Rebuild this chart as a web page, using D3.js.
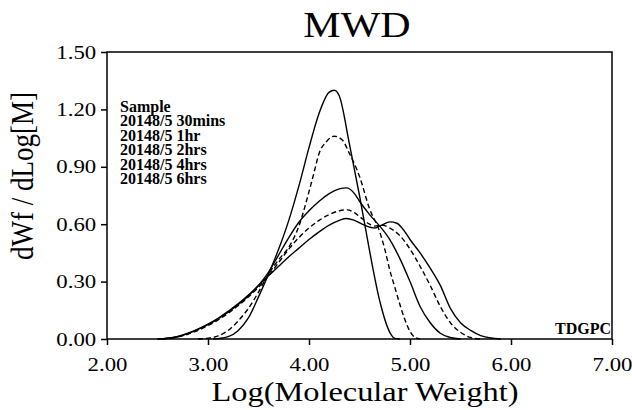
<!DOCTYPE html>
<html lang="en">
<head>
<meta charset="UTF-8">
<title>MWD</title>
<script src="https://d3js.org/d3.v7.min.js"></script>
<style>
  body { margin: 0; background: #fff; }
  svg { display: block; font-family: "Liberation Serif", "Times New Roman", serif; }
</style>
</head>
<body>
<div id="chart"></div>
<script>
// legend / series names
const sampleNames = ["20148/5 30mins", "20148/5 1hr", "20148/5 2hrs", "20148/5 4hrs", "20148/5 6hrs"];

// [log M, dWf/dLogM]
const s30mins = [[3.05,0],[3.1,0.002],[3.2,0.012],[3.3,0.045],[3.4,0.11],[3.5,0.22],[3.6,0.34],[3.7,0.47],
  [3.8,0.62],[3.9,0.80],[4.0,1.00],[4.1,1.18],[4.2,1.29],[4.25,1.30],[4.3,1.27],[4.4,1.02],[4.5,0.75],
  [4.6,0.46],[4.7,0.20],[4.8,0.035],[4.85,0.003],[4.9,0]];
const s1hr = [[2.9,0],[3.0,0.004],[3.1,0.016],[3.2,0.045],[3.3,0.095],[3.4,0.16],[3.5,0.245],[3.6,0.34],
  [3.7,0.415],[3.8,0.48],[3.9,0.59],[4.0,0.77],[4.05,0.87],[4.1,0.97],[4.17,1.03],[4.25,1.06],[4.33,1.04],
  [4.4,0.97],[4.5,0.85],[4.6,0.68],[4.7,0.56],[4.75,0.47],[4.8,0.36],[4.85,0.27],[4.9,0.18],[4.95,0.10],
  [5.0,0.04],[5.05,0.008],[5.1,0]];
const s2hrs = [[2.5,0],[2.6,0.004],[2.7,0.012],[2.8,0.028],[2.9,0.05],[3.0,0.075],[3.1,0.105],[3.2,0.14],
  [3.3,0.18],[3.4,0.225],[3.5,0.28],[3.6,0.35],[3.7,0.44],[3.8,0.53],[3.9,0.61],[4.0,0.67],[4.1,0.72],
  [4.2,0.76],[4.3,0.785],[4.37,0.79],[4.45,0.76],[4.5,0.72],[4.6,0.65],[4.7,0.59],[4.8,0.52],[4.9,0.42],
  [5.0,0.30],[5.1,0.17],[5.2,0.085],[5.3,0.03],[5.4,0.008],[5.5,0]];
const s4hrs = [[2.55,0],[2.6,0.003],[2.7,0.01],[2.8,0.025],[2.9,0.045],[3.0,0.07],[3.1,0.10],[3.2,0.135],
  [3.3,0.175],[3.4,0.22],[3.5,0.27],[3.6,0.33],[3.7,0.40],[3.8,0.47],[3.9,0.53],[4.0,0.58],[4.1,0.62],
  [4.2,0.65],[4.3,0.67],[4.38,0.675],[4.45,0.66],[4.5,0.64],[4.6,0.60],[4.65,0.59],[4.72,0.595],[4.8,0.58],
  [4.9,0.54],[5.0,0.47],[5.1,0.38],[5.2,0.28],[5.3,0.17],[5.4,0.085],[5.5,0.035],[5.6,0.008],[5.7,0]];
const s6hrs = [[2.5,0],[2.6,0.004],[2.7,0.013],[2.8,0.03],[2.9,0.052],[3.0,0.078],[3.1,0.108],[3.2,0.145],
  [3.3,0.185],[3.4,0.23],[3.5,0.28],[3.6,0.33],[3.7,0.38],[3.8,0.43],[3.9,0.475],[4.0,0.52],[4.1,0.56],
  [4.2,0.595],[4.3,0.62],[4.37,0.63],[4.45,0.62],[4.55,0.595],[4.65,0.58],[4.72,0.595],[4.8,0.612],
  [4.87,0.605],[4.95,0.56],[5.0,0.52],[5.1,0.45],[5.2,0.37],[5.3,0.28],[5.4,0.16],[5.5,0.085],[5.6,0.045],
  [5.7,0.018],[5.8,0.005],[5.9,0]];
const allSeries = [s30mins, s1hr, s2hrs, s4hrs, s6hrs];

const xTicks = [2, 3, 4, 5, 6, 7];
const yTicks = [0, 0.3, 0.6, 0.9, 1.2, 1.5];

const W = 632, H = 410;
const plotL = 107, plotR = 612, plotT = 52, plotB = 339;
const sx = 1.2; // the original text is drawn a bit wide

const svg = d3.select("#chart").append("svg")
  .attr("width", W)
  .attr("height", H);

const x = d3.scaleLinear().domain([2, 7]).range([plotL, plotR]);
const y = d3.scaleLinear().domain([0, 1.5]).range([plotB, plotT]);

// axes
const gx = svg.append("g")
  .attr("transform", `translate(0,${plotB})`)
  .call(d3.axisBottom(x).tickValues(xTicks).tickFormat(d3.format(".2f")).tickSize(6).tickSizeOuter(0).tickPadding(26));
const gy = svg.append("g")
  .attr("transform", `translate(${plotL},0)`)
  .call(d3.axisLeft(y).tickValues(yTicks).tickFormat(d3.format(".2f")).tickSize(6).tickSizeOuter(0).tickPadding(3));

[gx, gy].forEach(g => {
  g.select(".domain").remove();
  g.selectAll(".tick line").attr("stroke", "#000").attr("stroke-width", 1.5);
  g.selectAll(".tick text")
    .attr("fill", "#000")
    .style("font-size", "19px")
    .style("font-family", "'Liberation Serif', serif")
    .attr("transform", `scale(${sx},1)`);
});
gx.selectAll(".tick text").attr("dy", "0");

// frame
svg.append("rect")
  .attr("x", plotL).attr("y", plotT)
  .attr("width", plotR - plotL).attr("height", plotB - plotT)
  .attr("fill", "none")
  .attr("stroke", "#000")
  .attr("stroke-width", 1.5);

// curves
const line = d3.line()
  .x(d => x(d[0]))
  .y(d => y(d[1]))
  .curve(d3.curveMonotoneX);

svg.append("g").selectAll("path")
  .data(allSeries)
  .join("path")
  .attr("d", line)
  .attr("fill", "none")
  .attr("stroke", "#000")
  .attr("stroke-width", 1.4)
  .attr("stroke-dasharray", (d, i) => i % 2 ? "5,3" : null);

// titles
svg.append("text")
  .attr("transform", `translate(357,37) scale(${sx},1)`)
  .attr("text-anchor", "middle")
  .style("font-size", "35px")
  .text("MWD");

svg.append("text")
  .attr("transform", `translate(365,401) scale(${sx},1)`)
  .attr("text-anchor", "middle")
  .style("font-size", "27px")
  .text("Log(Molecular Weight)");

svg.append("text")
  .attr("transform", `translate(33,176) rotate(-90) scale(1,${sx})`)
  .attr("text-anchor", "middle")
  .style("font-size", "27px")
  .text("dWf / dLog[M]");

// legend (text only)
const legend = svg.append("g")
  .style("font-size", "16px")
  .style("font-weight", "bold");
legend.selectAll("text")
  .data(["Sample"].concat(sampleNames))
  .join("text")
  .attr("x", 120)
  .attr("y", (d, i) => 112 + i * 14.4)
  .text(d => d);

svg.append("text")
  .attr("x", 611).attr("y", 334)
  .attr("text-anchor", "end")
  .style("font-size", "16px")
  .style("font-weight", "bold")
  .text("TDGPC");
</script>
</body>
</html>
